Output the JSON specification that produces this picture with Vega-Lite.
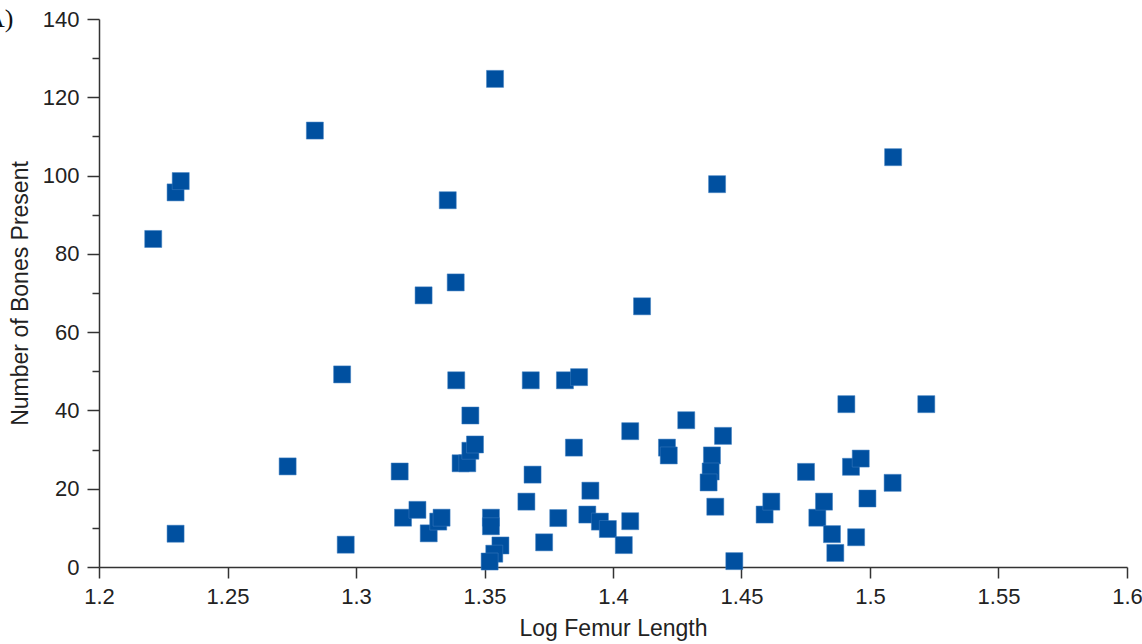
{
  "$schema": "https://vega.github.io/schema/vega-lite/v6.json",
  "autosize": "none",
  "width": 1028,
  "height": 548,
  "padding": {"left": 99, "top": 19, "right": 15, "bottom": 77},
  "background": "white",
  "title": {
    "text": "A)",
    "anchor": "start",
    "frame": "group",
    "align": "left",
    "baseline": "bottom",
    "dx": -113,
    "dy": 30,
    "offset": -20,
    "font": "Liberation Serif",
    "fontSize": 26,
    "fontWeight": "normal",
    "color": "#111"
  },
  "config": {
    "view": {"stroke": null},
    "axis": {
      "grid": false,
      "domainColor": "#333",
      "domainWidth": 1.5,
      "tickColor": "#333",
      "tickWidth": 1.5,
      "labelFont": "Liberation Sans",
      "labelFontSize": 22,
      "labelColor": "#222",
      "titleFont": "Liberation Sans",
      "titleFontSize": 23,
      "titleFontWeight": "normal",
      "titleColor": "#222"
    }
  },
  "data": {
    "values": [
      {"logFemur": 1.2211, "bones": 83.8},
      {"logFemur": 1.2298, "bones": 95.7},
      {"logFemur": 1.2318, "bones": 98.6},
      {"logFemur": 1.2298, "bones": 8.5},
      {"logFemur": 1.2734, "bones": 25.7},
      {"logFemur": 1.284, "bones": 111.5},
      {"logFemur": 1.2946, "bones": 49.2},
      {"logFemur": 1.296, "bones": 5.7},
      {"logFemur": 1.317, "bones": 24.4},
      {"logFemur": 1.3183, "bones": 12.6},
      {"logFemur": 1.3239, "bones": 14.6},
      {"logFemur": 1.3263, "bones": 69.4},
      {"logFemur": 1.3283, "bones": 8.6},
      {"logFemur": 1.332, "bones": 11.6},
      {"logFemur": 1.3333, "bones": 12.6},
      {"logFemur": 1.3357, "bones": 93.7},
      {"logFemur": 1.3388, "bones": 72.7},
      {"logFemur": 1.339, "bones": 47.7},
      {"logFemur": 1.3407, "bones": 26.5},
      {"logFemur": 1.3433, "bones": 26.5},
      {"logFemur": 1.3445, "bones": 29.7},
      {"logFemur": 1.3463, "bones": 31.3},
      {"logFemur": 1.3445, "bones": 38.7},
      {"logFemur": 1.3525, "bones": 12.6},
      {"logFemur": 1.3525, "bones": 10.4},
      {"logFemur": 1.3562, "bones": 5.5},
      {"logFemur": 1.3538, "bones": 3.4},
      {"logFemur": 1.352, "bones": 1.4},
      {"logFemur": 1.3541, "bones": 124.7},
      {"logFemur": 1.368, "bones": 47.7},
      {"logFemur": 1.3687, "bones": 23.6},
      {"logFemur": 1.3663, "bones": 16.7},
      {"logFemur": 1.3732, "bones": 6.3},
      {"logFemur": 1.3787, "bones": 12.5},
      {"logFemur": 1.3813, "bones": 47.7},
      {"logFemur": 1.3868, "bones": 48.5},
      {"logFemur": 1.3848, "bones": 30.5},
      {"logFemur": 1.3912, "bones": 19.5},
      {"logFemur": 1.39, "bones": 13.4},
      {"logFemur": 1.3949, "bones": 11.6},
      {"logFemur": 1.398, "bones": 9.7},
      {"logFemur": 1.4042, "bones": 5.6},
      {"logFemur": 1.4067, "bones": 11.7},
      {"logFemur": 1.4067, "bones": 34.7},
      {"logFemur": 1.4113, "bones": 66.6},
      {"logFemur": 1.421, "bones": 30.5},
      {"logFemur": 1.4217, "bones": 28.5},
      {"logFemur": 1.4285, "bones": 37.5},
      {"logFemur": 1.4385, "bones": 28.5},
      {"logFemur": 1.438, "bones": 24.4},
      {"logFemur": 1.4372, "bones": 21.6},
      {"logFemur": 1.4398, "bones": 15.4},
      {"logFemur": 1.4405, "bones": 97.8},
      {"logFemur": 1.4428, "bones": 33.5},
      {"logFemur": 1.4472, "bones": 1.5},
      {"logFemur": 1.459, "bones": 13.4},
      {"logFemur": 1.4616, "bones": 16.7},
      {"logFemur": 1.4751, "bones": 24.3},
      {"logFemur": 1.4795, "bones": 12.6},
      {"logFemur": 1.4821, "bones": 16.7},
      {"logFemur": 1.4852, "bones": 8.4},
      {"logFemur": 1.4865, "bones": 3.6},
      {"logFemur": 1.4908, "bones": 41.6},
      {"logFemur": 1.4926, "bones": 25.6},
      {"logFemur": 1.4946, "bones": 7.6},
      {"logFemur": 1.4964, "bones": 27.7},
      {"logFemur": 1.499, "bones": 17.5},
      {"logFemur": 1.509, "bones": 104.7},
      {"logFemur": 1.5088, "bones": 21.5},
      {"logFemur": 1.5219, "bones": 41.6}
    ]
  },
  "mark": {"type": "square", "size": 290, "filled": true, "opacity": 1, "color": "#0050A0", "stroke": "#3F7FC0", "strokeWidth": 0.5},
  "encoding": {
    "x": {
      "field": "logFemur",
      "type": "quantitative",
      "scale": {"domain": [1.2, 1.6], "nice": false, "zero": false},
      "axis": {
        "title": "Log Femur Length",
        "values": [1.2, 1.25, 1.3, 1.35, 1.4, 1.45, 1.5, 1.55, 1.6],
        "labelExpr": "format(datum.value, '.2~f')",
        "tickSize": 11,
        "labelPadding": 8,
        "titlePadding": 10,
        "labelFlush": false,
        "labelOverlap": false
      }
    },
    "y": {
      "field": "bones",
      "type": "quantitative",
      "scale": {"domain": [0, 140], "nice": false},
      "axis": {
        "title": "Number of Bones Present",
        "values": [0, 10, 20, 30, 40, 50, 60, 70, 80, 90, 100, 110, 120, 130, 140],
        "labelExpr": "datum.value % 20 === 0 ? datum.label : ''",
        "tickSize": {"condition": {"test": "datum.value % 20 !== 0", "value": 7}, "value": 12},
        "labelPadding": 8,
        "titlePadding": 10,
        "labelFlush": false,
        "labelOverlap": false
      }
    }
  }
}
